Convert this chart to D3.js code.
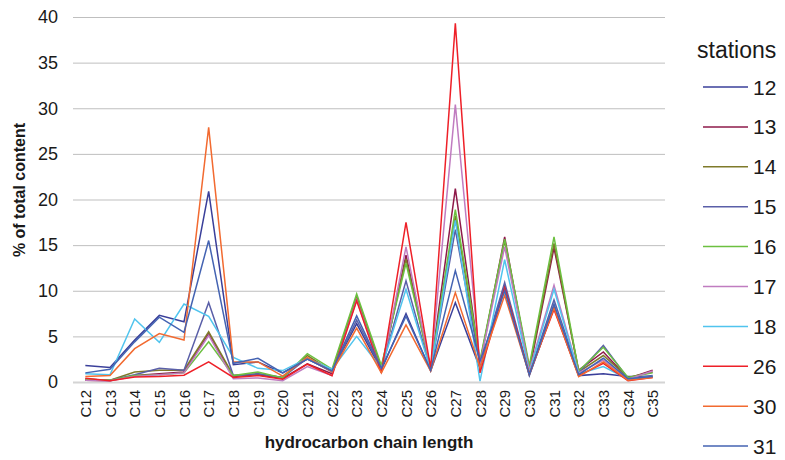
<!DOCTYPE html>
<html lang="en">
<head>
<meta charset="UTF-8" />
<title>Hydrocarbon chain length</title>
<script src="https://d3js.org/d3.v7.min.js"></script>
<style>
  body { margin: 0; background: #fff; }
  svg text { font-family: "Liberation Sans", Arial, sans-serif; fill: #1a1a1a; }
</style>
</head>
<body>
<svg id="chart" width="785" height="460"></svg>
<script>
// == DATA ==
const chainLengths = ["C12","C13","C14","C15","C16","C17","C18","C19","C20","C21","C22","C23",
                      "C24","C25","C26","C27","C28","C29","C30","C31","C32","C33","C34","C35"];
const stations = ["12","13","14","15","16","17","18","26","30","31"];
const yTicks = [0, 5, 10, 15, 20, 25, 30, 35, 40];

const st12 = [1.8,1.6,4.6,7.3,6.6,20.9,1.9,2.2,1.0,2.5,1.2,6.4,1.3,7.5,1.2,8.7,1.5,10.5,0.7,8.2,0.7,0.9,0.6,0.6];
const st13 = [0.2,0.15,0.7,0.9,1.1,5.3,0.6,0.8,0.4,2.0,0.9,9.2,1.2,13.9,1.5,21.2,2.0,15.9,1.2,14.7,1.3,3.3,0.4,1.3];
const st14 = [0.3,0.2,1.1,1.3,1.3,5.5,0.7,0.9,0.5,2.9,1.2,9.4,1.6,13.5,1.4,18.2,2.2,15.5,1.5,15.2,1.1,2.9,0.5,1.1];
const st15 = [0.3,0.2,0.8,1.5,1.3,8.7,0.7,0.9,0.5,2.6,1.1,6.8,1.4,11.1,1.3,16.7,1.8,10.9,0.9,9.0,1.0,4.0,0.4,0.7];
const st16 = [0.3,0.2,0.7,0.8,1.0,4.4,0.7,1.1,0.45,3.1,1.4,9.65,1.8,13.0,1.6,18.9,2.4,15.65,1.8,15.9,1.2,3.8,0.5,1.0];
const st17 = [0.2,0.15,0.6,0.8,1.0,5.1,0.35,0.45,0.15,1.7,0.7,9.0,1.1,14.8,1.4,30.4,2.0,14.8,1.3,10.6,1.0,2.4,0.3,1.2];
const st18 = [0.9,0.8,6.9,4.35,8.55,7.2,2.7,1.5,1.25,2.6,1.4,5.0,1.5,10.15,1.3,17.7,0.1,13.4,1.0,10.15,0.9,1.7,0.3,0.6];
const st26 = [0.4,0.15,0.55,0.6,0.75,2.2,0.5,0.7,0.3,1.95,0.7,8.9,1.0,17.5,1.5,39.3,1.0,10.3,0.9,7.95,0.7,2.05,0.15,0.5];
const st30 = [0.6,0.7,3.65,5.3,4.6,27.9,2.2,2.2,0.65,2.7,1.1,5.9,1.0,6.25,1.2,9.8,1.6,9.5,0.8,8.1,0.6,2.2,0.2,0.5];
const st31 = [1.0,1.4,4.4,7.1,5.45,15.5,2.05,2.6,1.0,2.5,1.2,7.25,1.5,7.2,1.3,12.2,2.3,10.0,0.8,8.55,0.8,2.6,0.35,0.6];

const stationColors = ["#3a3f9a","#8e1a4a","#7f7a2a","#5a5fa8","#6cc040","#c07cc0","#50c4ee","#ee2028","#f26a30","#4463b2"];

const seriesValues = [st12, st13, st14, st15, st16, st17, st18, st26, st30, st31];
const series = stations.map((name, i) => ({ name, color: stationColors[i], values: seriesValues[i] }));

// == LAYOUT ==
const svg = d3.select("#chart");
const margin = { left: 73, right: 120, top: 17, bottom: 78 };
const width = 785 - margin.left - margin.right;
const height = 460 - margin.top - margin.bottom;

const g = svg.append("g").attr("transform", `translate(${margin.left},${margin.top})`);

const x = d3.scalePoint().domain(chainLengths).range([0, width]).padding(0.5);
const y = d3.scaleLinear().domain([0, 40]).range([height, 0]);

// gridlines
g.append("g")
  .selectAll("line")
  .data(yTicks)
  .join("line")
  .attr("x1", 0).attr("x2", width)
  .attr("y1", d => y(d) + 0.5).attr("y2", d => y(d) + 0.5)
  .attr("stroke", d => d === 0 ? "#d4d4d4" : "#bfbfbf")
  .attr("stroke-width", d => d === 0 ? 2 : 1);

// y axis
const yAxis = g.append("g")
  .call(d3.axisLeft(y).tickValues(yTicks).tickSize(0).tickPadding(15));
yAxis.select(".domain").remove();
yAxis.selectAll("text").style("font-size", "18px").attr("fill", "#1a1a1a");

// x axis
const xAxis = g.append("g")
  .attr("transform", `translate(0,${height})`)
  .call(d3.axisBottom(x).tickSize(0));
xAxis.select(".domain").remove();
xAxis.selectAll("text")
  .style("font-size", "15px")
  .attr("fill", "#1a1a1a")
  .attr("transform", "rotate(-90)")
  .attr("text-anchor", "end")
  .attr("x", -8)
  .attr("y", 0)
  .attr("dy", "0.35em");

// lines
const line = d3.line()
  .x((d, i) => x(chainLengths[i]))
  .y(d => y(d));

g.append("g")
  .selectAll("path")
  .data(series)
  .join("path")
  .attr("fill", "none")
  .attr("stroke", d => d.color)
  .attr("stroke-width", 1.5)
  .attr("stroke-linejoin", "miter")
  .attr("d", d => line(d.values));

// axis titles
svg.append("text")
  .attr("x", margin.left + width / 2)
  .attr("y", 448)
  .attr("text-anchor", "middle")
  .style("font-size", "17px")
  .style("font-weight", "bold")
  .text("hydrocarbon chain length");

svg.append("text")
  .attr("transform", `translate(25,190) rotate(-90)`)
  .attr("text-anchor", "middle")
  .style("font-size", "16px")
  .style("font-weight", "bold")
  .text("% of total content");

// legend
const legend = svg.append("g").attr("transform", "translate(697,0)");
legend.append("text")
  .attr("x", 0).attr("y", 58)
  .style("font-size", "23px")
  .text("stations");

const item = legend.selectAll("g.item")
  .data(series)
  .join("g")
  .attr("class", "item")
  .attr("transform", (d, i) => `translate(0,${87 + i * 39.9})`);

item.append("line")
  .attr("x1", 6).attr("x2", 51)
  .attr("stroke", d => d.color)
  .attr("stroke-width", 1.5);

item.append("text")
  .attr("x", 56).attr("dy", "0.36em")
  .style("font-size", "21px")
  .text(d => d.name);
</script>
</body>
</html>
